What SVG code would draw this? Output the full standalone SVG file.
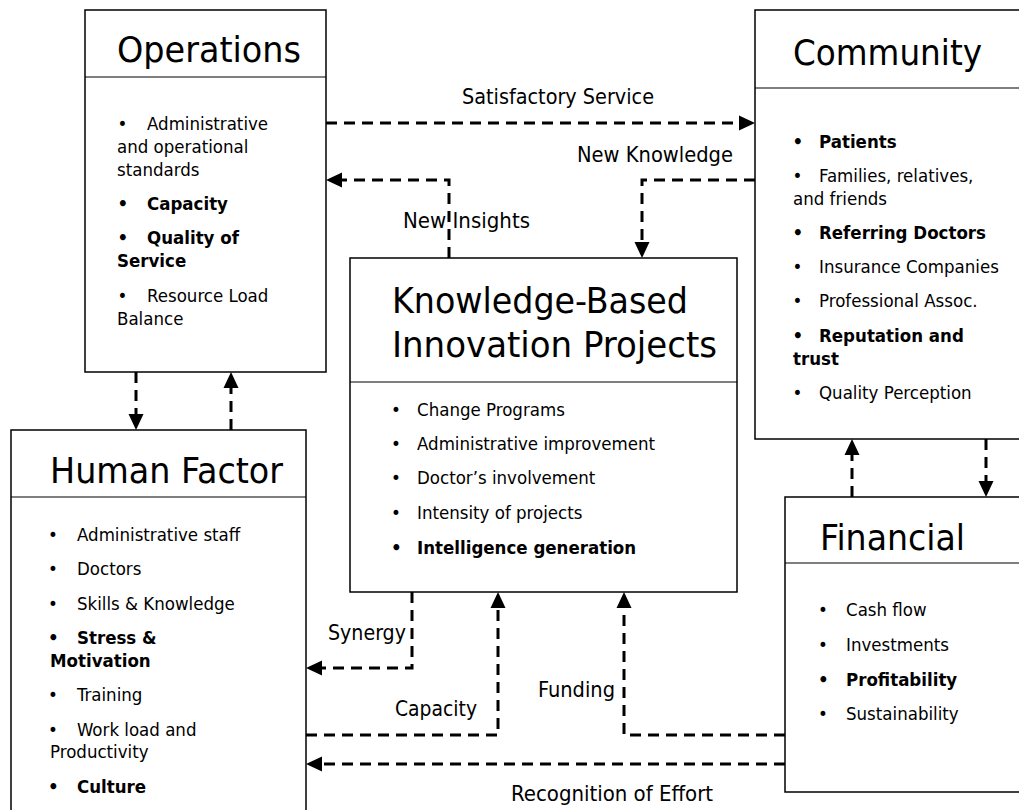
<svg xmlns="http://www.w3.org/2000/svg" width="1019" height="810" viewBox="0 0 1019 810">
<style>
text{font-family:"DejaVu Sans Condensed","DejaVu Sans","Liberation Sans",sans-serif;fill:#000}
.t{font-size:36px}
.b{font-size:18.5px}
.bb{font-size:18.5px;font-weight:bold}
.l{font-size:21px}
.box{fill:#fff;stroke:#000;stroke-width:1.5}
.div{stroke:#000;stroke-width:1.2}
.c{fill:none;stroke:#000;stroke-width:3;stroke-dasharray:11 7;marker-end:url(#ah)}
</style>
<defs>
<marker id="ah" viewBox="0 0 16 16" refX="0" refY="8" markerWidth="16" markerHeight="16" markerUnits="userSpaceOnUse" orient="auto">
<path d="M0,0.5 L16,8 L0,15.5 z" fill="#000"/>
</marker>
</defs>
<rect width="1019" height="810" fill="#fff"/>

<g id="operations">
<rect class="box" x="85" y="10" width="241" height="362"/>
<line class="div" x1="85" y1="77" x2="326" y2="77"/>
<text class="t" x="117" y="62" textLength="184" lengthAdjust="spacingAndGlyphs">Operations</text>
<text class="b" x="117.5" y="130">•</text><text class="b" x="147" y="130">Administrative</text>
<text class="b" x="117" y="153">and operational</text>
<text class="b" x="117" y="176">standards</text>
<text class="bb" x="117.5" y="210">•</text><text class="bb" x="147" y="210">Capacity</text>
<text class="bb" x="117.5" y="244">•</text><text class="bb" x="147" y="244">Quality of</text>
<text class="bb" x="117" y="267">Service</text>
<text class="b" x="117.5" y="302">•</text><text class="b" x="147" y="302">Resource Load</text>
<text class="b" x="117" y="325">Balance</text>
</g>

<g id="community">
<rect class="box" x="755" y="10" width="280" height="429"/>
<line class="div" x1="755" y1="88" x2="1035" y2="88"/>
<text class="t" x="793" y="65" textLength="189" lengthAdjust="spacingAndGlyphs">Community</text>
<text class="bb" x="792.5" y="148">•</text><text class="bb" x="819" y="148">Patients</text>
<text class="b" x="792.5" y="182">•</text><text class="b" x="819" y="182">Families, relatives,</text>
<text class="b" x="793" y="205">and friends</text>
<text class="bb" x="792.5" y="239">•</text><text class="bb" x="819" y="239">Referring Doctors</text>
<text class="b" x="792.5" y="273">•</text><text class="b" x="819" y="273">Insurance Companies</text>
<text class="b" x="792.5" y="307">•</text><text class="b" x="819" y="307">Professional Assoc.</text>
<text class="bb" x="792.5" y="342">•</text><text class="bb" x="819" y="342">Reputation and</text>
<text class="bb" x="793" y="365">trust</text>
<text class="b" x="792.5" y="399">•</text><text class="b" x="819" y="399">Quality Perception</text>
</g>

<g id="knowledge">
<rect class="box" x="350" y="258" width="387" height="334"/>
<line class="div" x1="350" y1="382" x2="737" y2="382"/>
<text class="t" x="392" y="313" textLength="296" lengthAdjust="spacingAndGlyphs">Knowledge-Based</text>
<text class="t" x="392" y="357" textLength="325" lengthAdjust="spacingAndGlyphs">Innovation Projects</text>
<text class="b" x="391" y="416">•</text><text class="b" x="417" y="416">Change Programs</text>
<text class="b" x="391" y="450">•</text><text class="b" x="417" y="450">Administrative improvement</text>
<text class="b" x="391" y="484">•</text><text class="b" x="417" y="484">Doctor’s involvement</text>
<text class="b" x="391" y="519">•</text><text class="b" x="417" y="519">Intensity of projects</text>
<text class="bb" x="391" y="554">•</text><text class="bb" x="417" y="554">Intelligence generation</text>
</g>

<g id="human-factor">
<rect class="box" x="11" y="430" width="295" height="400"/>
<line class="div" x1="11" y1="497" x2="306" y2="497"/>
<text class="t" x="50" y="483" textLength="233" lengthAdjust="spacingAndGlyphs">Human Factor</text>
<text class="b" x="48" y="541">•</text><text class="b" x="77" y="541">Administrative staff</text>
<text class="b" x="48" y="575">•</text><text class="b" x="77" y="575">Doctors</text>
<text class="b" x="48" y="610">•</text><text class="b" x="77" y="610">Skills &amp; Knowledge</text>
<text class="bb" x="48" y="644">•</text><text class="bb" x="77" y="644">Stress &amp;</text>
<text class="bb" x="50" y="667">Motivation</text>
<text class="b" x="48" y="701">•</text><text class="b" x="77" y="701">Training</text>
<text class="b" x="48" y="736">•</text><text class="b" x="77" y="736">Work load and</text>
<text class="b" x="50" y="758">Productivity</text>
<text class="bb" x="48" y="793">•</text><text class="bb" x="77" y="793">Culture</text>
</g>

<g id="financial">
<rect class="box" x="785" y="497" width="250" height="295"/>
<line class="div" x1="785" y1="563" x2="1035" y2="563"/>
<text class="t" x="820" y="550" textLength="145" lengthAdjust="spacingAndGlyphs">Financial</text>
<text class="b" x="818" y="616">•</text><text class="b" x="846" y="616">Cash flow</text>
<text class="b" x="818" y="651">•</text><text class="b" x="846" y="651">Investments</text>
<text class="bb" x="818" y="686">•</text><text class="bb" x="846" y="686">Profitability</text>
<text class="b" x="818" y="720">•</text><text class="b" x="846" y="720">Sustainability</text>
</g>

<g id="connectors">
<path class="c" d="M326,123 H739"/>
<path class="c" d="M755,180 H642 V242"/>
<path class="c" d="M449,258 V180 H342"/>
<path class="c" d="M136,372 V414"/>
<path class="c" d="M231,430 V388"/>
<path class="c" d="M412,592 V668 H322"/>
<path class="c" d="M306,735 H498 V608"/>
<path class="c" d="M785,735 H624 V608"/>
<path class="c" d="M785,764 H322"/>
<path class="c" d="M852,497 V455"/>
<path class="c" d="M986,439 V481"/>
<text class="l" x="462" y="104" textLength="192" lengthAdjust="spacingAndGlyphs">Satisfactory Service</text>
<text class="l" x="577" y="162" textLength="156" lengthAdjust="spacingAndGlyphs">New Knowledge</text>
<text class="l" x="403" y="228" textLength="127" lengthAdjust="spacingAndGlyphs">New Insights</text>
<text class="l" x="328" y="640" textLength="78" lengthAdjust="spacingAndGlyphs">Synergy</text>
<text class="l" x="395" y="716" textLength="82" lengthAdjust="spacingAndGlyphs">Capacity</text>
<text class="l" x="538" y="697" textLength="77" lengthAdjust="spacingAndGlyphs">Funding</text>
<text class="l" x="511" y="801" textLength="202" lengthAdjust="spacingAndGlyphs">Recognition of Effort</text>
</g>
</svg>
